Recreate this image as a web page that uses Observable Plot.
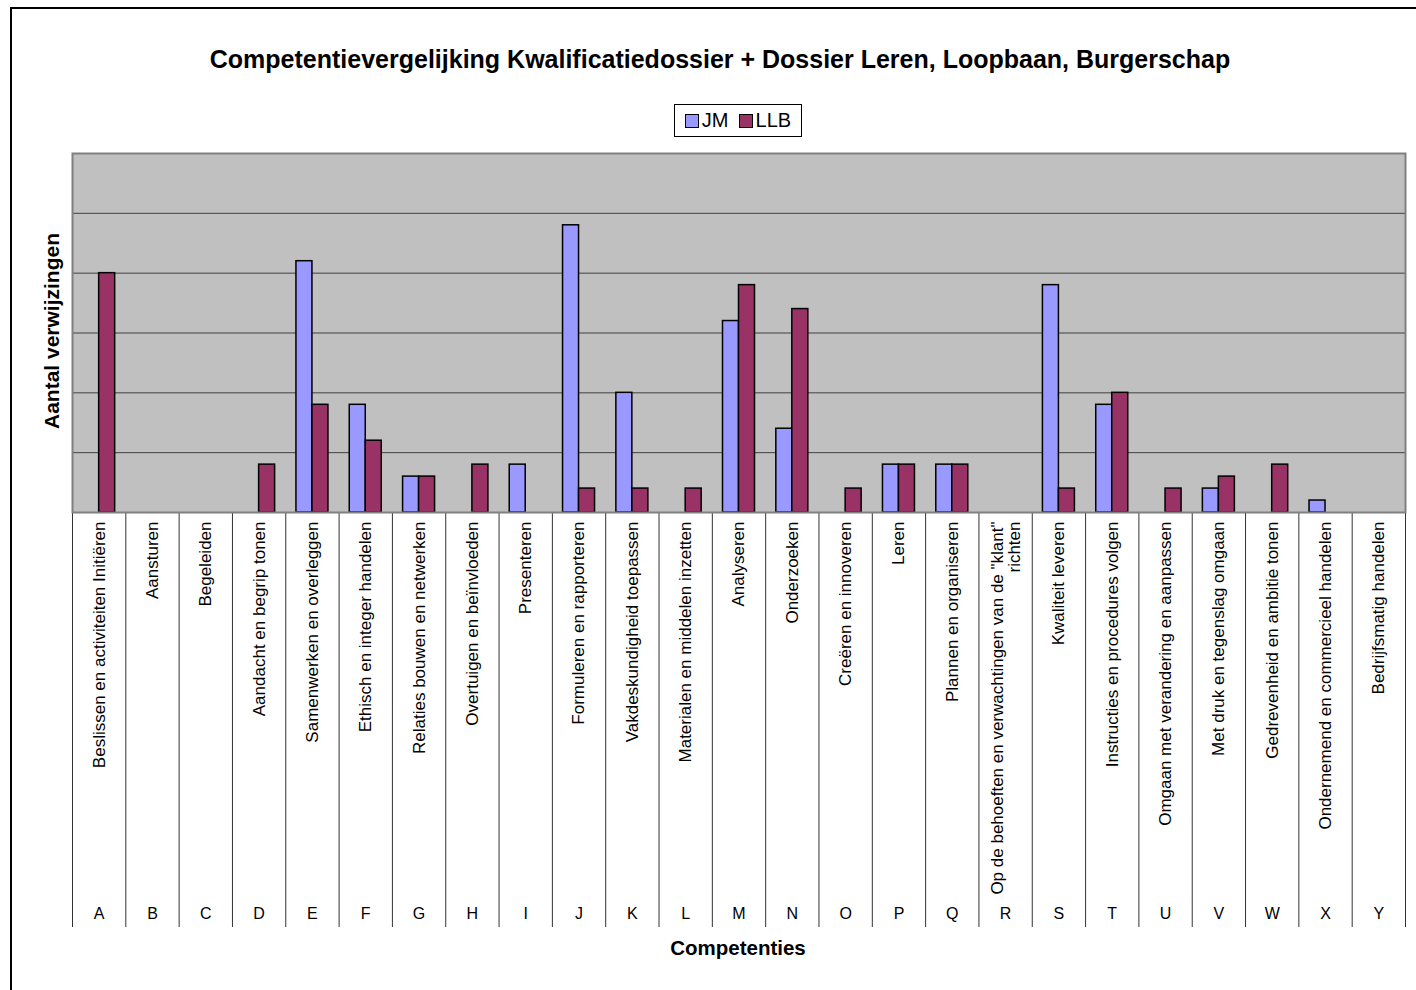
<!DOCTYPE html>
<html>
<head>
<meta charset="utf-8">
<script src="https://cdn.jsdelivr.net/npm/d3@7"></script>
<script src="https://cdn.jsdelivr.net/npm/@observablehq/plot@0.6"></script>
<style>
  html, body { margin: 0; padding: 0; background: #fff; }
  #wrap { position: relative; width: 1416px; height: 990px; overflow: hidden; font-family: Arial, "Liberation Sans", sans-serif; }
  #border { position: absolute; left: 10px; top: 7px; width: 1500px; height: 1100px; border: 2px solid #000; box-sizing: border-box; }
  #chart { position: absolute; left: 0; top: 0; }
  #title { position: absolute; left: 720px; top: 59px; transform: translate(-50%, -50%); font-weight: bold; font-size: 25px; color: #000; white-space: nowrap; }
  #legend { position: absolute; left: 674px; top: 104px; width: 128px; height: 33px; box-sizing: border-box; border: 1px solid #000; background: #fff; font-size: 20px; display: flex; align-items: center; justify-content: center; gap: 10px; }
  .item { display: flex; align-items: center; gap: 3px; }
  .sw { width: 14px; height: 14px; border: 1.5px solid #000; display: inline-block; box-sizing: border-box; }
  #ylab { position: absolute; left: 52px; top: 331px; transform: translate(-50%, -50%) rotate(-90deg); font-weight: bold; font-size: 21px; white-space: nowrap; }
  #xlab { position: absolute; left: 738px; top: 948px; transform: translate(-50%, -50%); font-weight: bold; font-size: 20.5px; white-space: nowrap; }
</style>
</head>
<body>
<div id="wrap">
  <div id="border"></div>
  <div id="chart"></div>
  <div id="title"></div>
  <div id="legend"></div>
  <div id="ylab"></div>
  <div id="xlab"></div>
</div>
<script>
const titleText = "Competentievergelijking Kwalificatiedossier + Dossier Leren, Loopbaan, Burgerschap";
const yTitle = "Aantal verwijzingen";
const xTitle = "Competenties";
const seriesNames = ["JM", "LLB"];
const seriesColors = ["#9999ff", "#993366"];
const letters = ["A","B","C","D","E","F","G","H","I","J","K","L","M","N","O","P","Q","R","S","T","U","V","W","X","Y"];
const labels = [
  "Beslissen en activiteiten Initiëren",
  "Aansturen",
  "Begeleiden",
  "Aandacht en begrip tonen",
  "Samenwerken en overleggen",
  "Ethisch en integer handelen",
  "Relaties bouwen en netwerken",
  "Overtuigen en beïnvloeden",
  "Presenteren",
  "Formuleren en rapporteren",
  "Vakdeskundigheid toepassen",
  "Materialen en middelen inzetten",
  "Analyseren",
  "Onderzoeken",
  "Creëren en innoveren",
  "Leren",
  "Plannen en organiseren",
  "Op de behoeften en verwachtingen van de \"klant\"\nrichten",
  "Kwaliteit leveren",
  "Instructies en procedures volgen",
  "Omgaan met verandering en aanpassen",
  "Met druk en tegenslag omgaan",
  "Gedrevenheid en ambitie tonen",
  "Ondernemend en commercieel handelen",
  "Bedrijfsmatig handelen"
];
const jm  = [0,0,0,0,21,9,3,0,4,24,10,0,16,7,0,4,4,0,19,9,0,2,0,1,0];
const llb = [20,0,0,4,9,6,3,4,0,2,2,2,19,17,2,4,4,0,2,10,2,3,4,0,0];
const gridTicks = [5,10,15,20,25];

document.getElementById("title").textContent = titleText;
document.getElementById("ylab").textContent = yTitle;
document.getElementById("xlab").textContent = xTitle;
const leg = document.getElementById("legend");
seriesNames.forEach((n, i) => {
  const it = document.createElement("span"); it.className = "item";
  const sw = document.createElement("span"); sw.className = "sw"; sw.style.background = seriesColors[i];
  const tx = document.createElement("span"); tx.textContent = n;
  it.appendChild(sw); it.appendChild(tx); leg.appendChild(it);
});

const labelOf = new Map(letters.map((l, i) => [l, labels[i]]));
const rows = letters.map((l, i) => ({cat: l, jm: jm[i], llb: llb[i]}));

const W = 1416, H = 990;
const mL = 72, mR = 11, mT = 153, mB = 478;
const bw = (W - mL - mR) / letters.length;
const barW = 16;
const half = bw / 2;
const sepLen = 415;

const plot = Plot.plot({
  width: W, height: H,
  marginLeft: mL, marginRight: mR, marginTop: mT, marginBottom: mB,
  style: {fontFamily: "Arial, 'Liberation Sans', sans-serif", background: "transparent", overflow: "visible"},
  x: {domain: letters, padding: 0, round: false, label: null},
  y: {domain: [0, 30], axis: null, label: null},
  marks: [
    Plot.axisX({tickSize: sepLen, tickFormat: () => "", dx: -half, stroke: "#333", label: null}),
    Plot.axisX(["Y"], {tickSize: sepLen, tickFormat: () => "", dx: half, stroke: "#333", label: null}),
    Plot.frame({fill: "#c0c0c0", stroke: null}),
    Plot.ruleY(gridTicks, {stroke: "#404040", strokeWidth: 1}),
    Plot.barY(rows.filter(d => d.jm > 0), {x: "cat", y: "jm", fill: seriesColors[0], stroke: "#000", strokeWidth: 1.5, insetLeft: half - barW, insetRight: half}),
    Plot.barY(rows.filter(d => d.llb > 0), {x: "cat", y: "llb", fill: seriesColors[1], stroke: "#000", strokeWidth: 1.5, insetLeft: half, insetRight: half - barW}),
    Plot.frame({stroke: "#808080", strokeWidth: 2, fill: null}),
    Plot.axisX({tickSize: 0, tickRotate: -90, tickPadding: 9, tickFormat: d => labelOf.get(d), fontSize: 17, lineHeight: 1, fill: "#000", label: null}),
    Plot.axisX({tickSize: 0, tickPadding: 395, tickFormat: d => d, fontSize: 16, fill: "#000", label: null})
  ]
});
document.getElementById("chart").appendChild(plot);
</script>
</body>
</html>
